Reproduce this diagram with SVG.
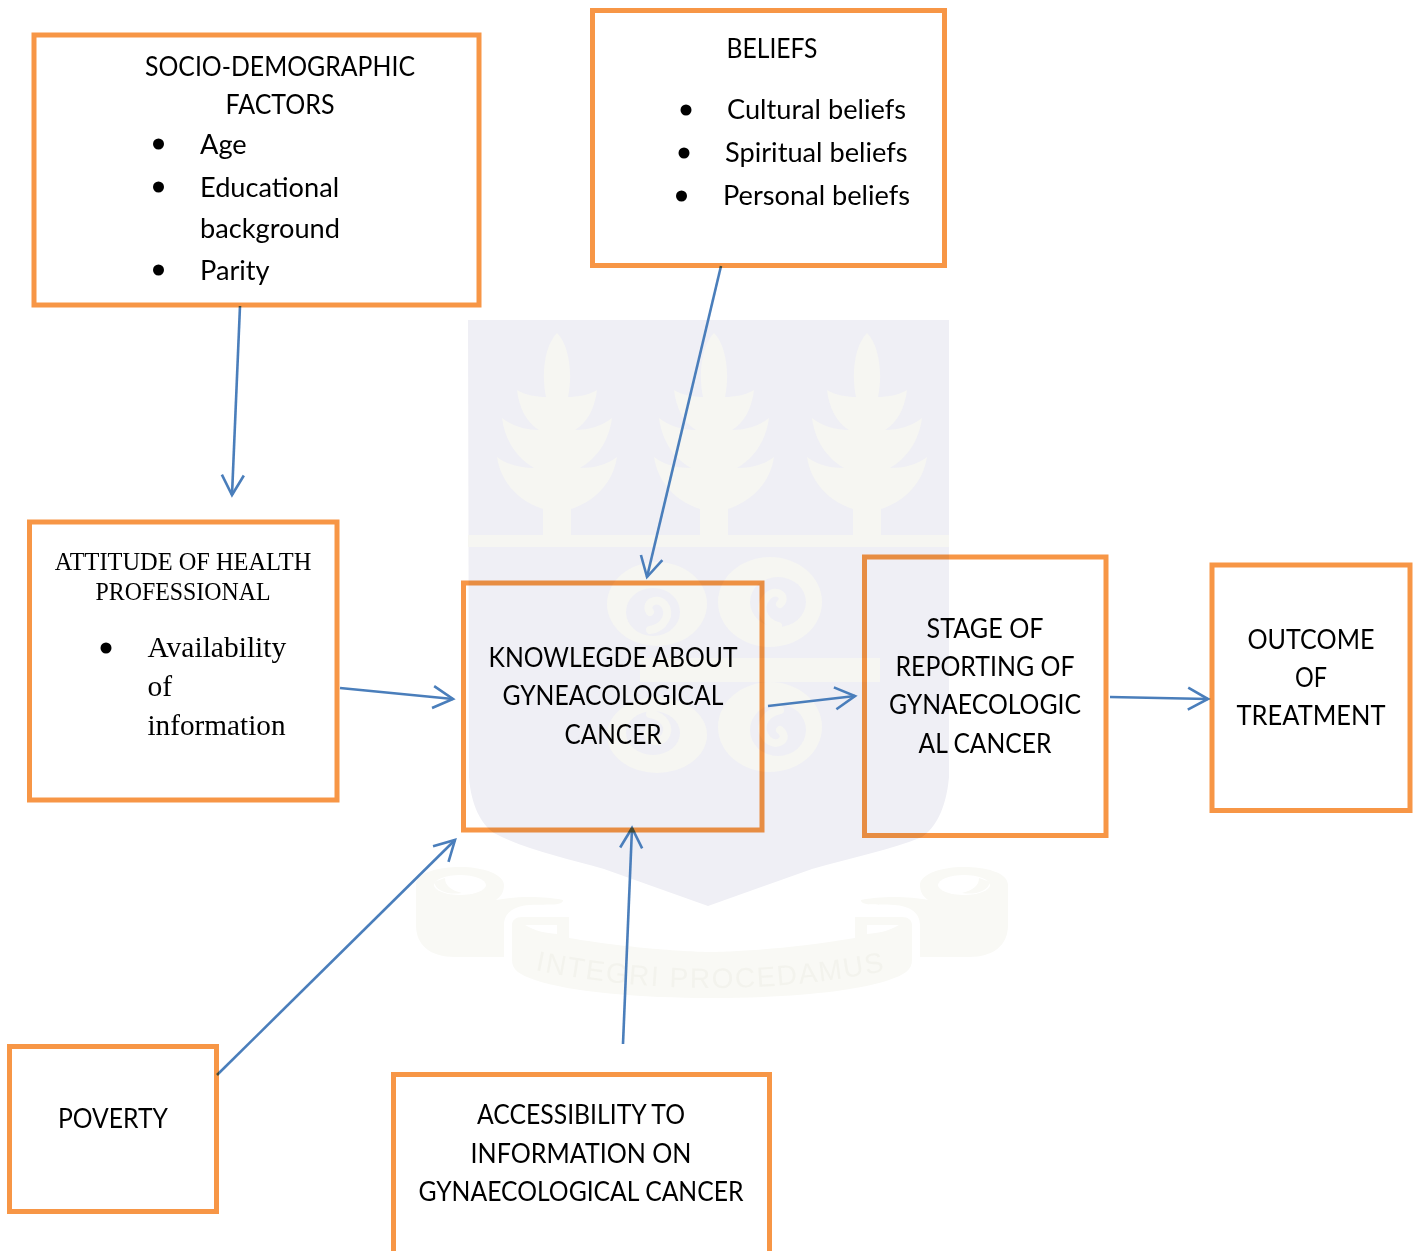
<svg xmlns="http://www.w3.org/2000/svg" width="1419" height="1251" viewBox="0 0 1419 1251">
<style>
.box{fill:none;stroke:#f79646;stroke-width:5;mix-blend-mode:multiply}
.t{font-family:"Lato","Liberation Sans",sans-serif;font-size:27.200px;fill:#000}
.m{text-anchor:middle}
.s{font-family:"Liberation Serif",serif;fill:#000}
.arrow{fill:none;stroke:#4a7ebb;stroke-width:2.600}
.wp{fill:#f6f6f2}
.wc{fill:#efeff5}
.ws{fill:none;stroke:#f6f6f2;stroke-width:8;stroke-linecap:round}
.wb{fill:#f9f9f5}
.wh{fill:#fff}
</style>
<defs>
<marker id="open" markerUnits="userSpaceOnUse" markerWidth="30" markerHeight="30" refX="22" refY="12" orient="auto" overflow="visible">
<path d="M2,1 L22,12 L2,23" fill="none" stroke="#4a7ebb" stroke-width="2.600"/>
</marker>
<path id="tree" d="M0,0 C12,12 16,40 11,64 C20,64 32,62 40,57 C38,75 30,90 18,97 C32,97 45,93 55,85 C52,108 40,125 23,135 C36,135 50,132 60,124 C56,150 38,168 14,176 V202 H-14 V176 C-38,168 -56,150 -60,124 C-50,132 -36,135 -23,135 C-40,125 -52,108 -55,85 C-45,93 -32,97 -18,97 C-30,90 -38,75 -40,57 C-32,62 -20,64 -11,64 C-16,40 -12,12 0,0Z"/>
<g id="scroll">
<path class="wb" d="M416,885 C416,872 440,867 460,867 C485,867 504,875 504,885 C504,893 500,897 496,900 C515,896 545,896 563,900 C563,906 550,904 530,905 C515,906 504,912 504,925 V957 H455 C430,957 416,945 416,925Z"/>
<ellipse class="wh" cx="460" cy="885" rx="26" ry="10"/>
<path class="wb" d="M434,882 C436,892 450,895 462,893 C450,890 445,885 445,878Z"/>
<path class="wb" d="M512,925 C512,920 516,917 522,917 H569 V938 C640,950 700,952 712,952 V998 C640,998 570,992 535,980 C520,975 512,970 512,960Z"/>
<path class="wh" d="M525,925 H557 V934 C545,933 535,931 525,925Z"/>
</g>
</defs>
<g id="watermark">
<path class="wc" d="M468,320 H949 V777 C946,810 935,828 922,837 C890,850 850,858 812,869 L708,906 L604,869 C566,858 526,850 494,833 C481,824 471,805 469,777Z"/>
<rect x="468" y="535" width="481" height="12" class="wp"/>
<use href="#tree" x="557" y="333" class="wp"/>
<use href="#tree" x="714" y="333" class="wp"/>
<use href="#tree" x="867" y="333" class="wp"/>
<ellipse class="wp" cx="657" cy="604" rx="50" ry="42"/>
<ellipse class="wp" cx="770" cy="602" rx="52" ry="45"/>
<ellipse class="wp" cx="657" cy="735" rx="50" ry="38"/>
<ellipse class="wp" cx="770" cy="727" rx="52" ry="45"/>
<rect class="wp" x="640" y="658" width="240" height="24"/>
<ellipse class="wc" cx="653" cy="612" rx="27" ry="24"/>
<ellipse class="wc" cx="778" cy="602" rx="28" ry="25"/>
<ellipse class="wc" cx="653" cy="733" rx="27" ry="22"/>
<ellipse class="wc" cx="778" cy="730" rx="28" ry="26"/>
<path class="ws" d="M650,612 C644,604 656,596 664,604 C672,614 664,628 650,630"/>
<path class="ws" d="M780,604 C788,596 776,588 768,596 C758,606 762,622 778,626"/>
<path class="ws" d="M650,728 C644,738 656,746 664,738 C672,728 664,716 650,714"/>
<path class="ws" d="M780,730 C790,738 778,748 768,740 C758,730 762,714 780,710"/>
<use href="#scroll"/>
<use href="#scroll" transform="matrix(-1 0 0 1 1424 0)"/>
<rect class="wb" x="700" y="952" width="24" height="46"/>
<path id="motto" d="M535,970 Q712,1006 890,970" fill="none"/>
<text font-family="'Liberation Sans',sans-serif" font-size="28" fill="#f3f3ed" textLength="352"><textPath href="#motto">INTEGRI PROCEDAMUS</textPath></text>
</g>
<g id="connectors">
<line class="arrow" x1="240" y1="306" x2="232" y2="495" marker-end="url(#open)"/>
<line class="arrow" x1="721" y1="266" x2="647" y2="577" marker-end="url(#open)"/>
<line class="arrow" x1="340" y1="688" x2="453" y2="699" marker-end="url(#open)"/>
<line class="arrow" x1="217" y1="1075" x2="455" y2="840" marker-end="url(#open)"/>
<line class="arrow" x1="623" y1="1044" x2="632" y2="828" marker-end="url(#open)"/>
<line class="arrow" x1="768" y1="706" x2="855" y2="696" marker-end="url(#open)"/>
<line class="arrow" x1="1110" y1="697" x2="1208" y2="699" marker-end="url(#open)"/>
</g>
<g id="socio">
<rect class="box" x="34" y="35" width="445" height="270"/>
<text class="t m" x="280" y="76" textLength="270" lengthAdjust="spacingAndGlyphs">SOCIO-DEMOGRAPHIC</text>
<text class="t m" x="280" y="114" textLength="109" lengthAdjust="spacingAndGlyphs">FACTORS</text>
<circle cx="158.500" cy="144" r="5.500"/><circle cx="158.500" cy="187" r="5.500"/><circle cx="158.500" cy="270" r="5.500"/>
<text class="t" x="200" y="154">Age</text>
<text class="t" x="200" y="197">Educational</text>
<text class="t" x="200" y="238">background</text>
<text class="t" x="200" y="280">Parity</text>
</g>
<g id="beliefs">
<rect class="box" x="592.500" y="10.500" width="352" height="255"/>
<text class="t m" x="772" y="58" textLength="91" lengthAdjust="spacingAndGlyphs">BELIEFS</text>
<circle cx="686" cy="110" r="5.500"/><circle cx="684" cy="153" r="5.500"/><circle cx="681.500" cy="196" r="5.500"/>
<text class="t" x="727" y="119">Cultural beliefs</text>
<text class="t" x="725" y="162">Spiritual beliefs</text>
<text class="t" x="723" y="205">Personal beliefs</text>
</g>
<g id="attitude">
<rect class="box" x="29.500" y="522" width="307.500" height="278"/>
<text class="s m" x="183" y="570" font-size="24.400">ATTITUDE OF HEALTH</text>
<text class="s m" x="183" y="600" font-size="24.400" textLength="175" lengthAdjust="spacingAndGlyphs">PROFESSIONAL</text>
<circle cx="106" cy="648" r="5.500"/>
<text class="s" x="147.500" y="657" font-size="29.500">Availability</text>
<text class="s" x="147.500" y="696" font-size="29.500">of</text>
<text class="s" x="147.500" y="735" font-size="29.500" textLength="138" lengthAdjust="spacingAndGlyphs">information</text>
</g>
<g id="knowledge">
<rect class="box" x="463.500" y="583" width="298.500" height="247"/>
<text class="t m" x="613" y="667" textLength="249" lengthAdjust="spacingAndGlyphs">KNOWLEGDE ABOUT</text>
<text class="t m" x="613" y="705" textLength="221" lengthAdjust="spacingAndGlyphs">GYNEACOLOGICAL</text>
<text class="t m" x="613" y="744" textLength="97" lengthAdjust="spacingAndGlyphs">CANCER</text>
</g>
<g id="stage">
<rect class="box" x="864.500" y="557" width="241.500" height="278.500"/>
<text class="t m" x="985" y="638" textLength="117" lengthAdjust="spacingAndGlyphs">STAGE OF</text>
<text class="t m" x="985" y="676" textLength="179" lengthAdjust="spacingAndGlyphs">REPORTING OF</text>
<text class="t m" x="985" y="714" textLength="192" lengthAdjust="spacingAndGlyphs">GYNAECOLOGIC</text>
<text class="t m" x="985" y="753" textLength="133" lengthAdjust="spacingAndGlyphs">AL CANCER</text>
</g>
<g id="outcome">
<rect class="box" x="1212" y="565" width="198" height="245.500"/>
<text class="t m" x="1311" y="649" textLength="127" lengthAdjust="spacingAndGlyphs">OUTCOME</text>
<text class="t m" x="1311" y="687" textLength="32" lengthAdjust="spacingAndGlyphs">OF</text>
<text class="t m" x="1311" y="725" textLength="149" lengthAdjust="spacingAndGlyphs">TREATMENT</text>
</g>
<g id="poverty">
<rect class="box" x="9.500" y="1046.500" width="207" height="165"/>
<text class="t m" x="113" y="1128" textLength="110" lengthAdjust="spacingAndGlyphs">POVERTY</text>
</g>
<g id="access">
<rect class="box" x="393.500" y="1074.500" width="376" height="190"/>
<text class="t m" x="581" y="1124" textLength="208" lengthAdjust="spacingAndGlyphs">ACCESSIBILITY TO</text>
<text class="t m" x="581" y="1163" textLength="221" lengthAdjust="spacingAndGlyphs">INFORMATION ON</text>
<text class="t m" x="581" y="1201" textLength="325" lengthAdjust="spacingAndGlyphs">GYNAECOLOGICAL CANCER</text>
</g>
</svg>
